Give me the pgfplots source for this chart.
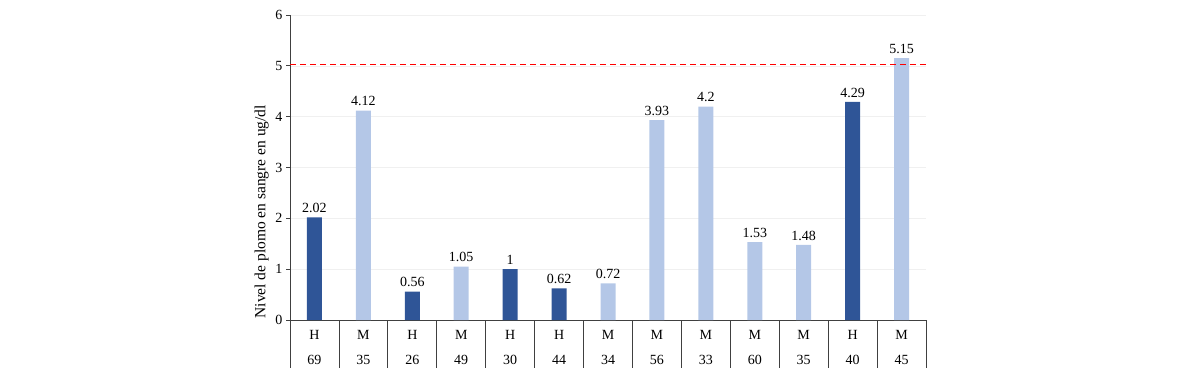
\documentclass[border=0pt]{standalone}
\usepackage{fontspec}
\setmainfont{Liberation Serif}
\usepackage{pgfplots}
\pgfplotsset{compat=1.18}
\definecolor{hblue}{HTML}{2F5597}
\definecolor{mblue}{HTML}{B4C7E7}
\begin{document}
\begin{tikzpicture}[x=1pt,y=1pt]
\useasboundingbox (0,0) rectangle (1200,384);
\begin{axis}[
  at={(290pt,64pt)}, anchor=south west,
  scale only axis, width=636pt, height=305pt,
  xmin=-0.5, xmax=12.5, ymin=0, ymax=6,
  clip=false,
  axis x line*=bottom, axis y line*=left,
  axis line style={black!75, line width=0.8pt},
  ytick={0,1,2,3,4,5,6},
  ymajorgrids, grid style={black!6, line width=0.5pt},
  ytick style={black!75, line width=0.8pt},
  tick align=outside, major tick length=4pt,
  xtick={0,...,12}, xtick style={draw=none},
  xticklabels={{H\\[10pt]69},{M\\[10pt]35},{H\\[10pt]26},{M\\[10pt]49},{H\\[10pt]30},{H\\[10pt]44},{M\\[10pt]34},{M\\[10pt]56},{M\\[10pt]33},{M\\[10pt]60},{M\\[10pt]35},{H\\[10pt]40},{M\\[10pt]45}},
  xticklabel style={align=center, font=\fontsize{14}{15}\selectfont, yshift=-3pt},
  yticklabel style={font=\fontsize{14}{15}\selectfont},
  /pgf/number format/assume math mode=true,
  ylabel={Nivel de plomo en sangre en ug/dl},
  ylabel style={font=\fontsize{15.5}{17}\selectfont, at={(ticklabel cs:0.355)}},
  bar width=15pt,
]
\addplot[ybar, fill=hblue, draw=none, bar shift=0pt,
  nodes near coords, point meta=explicit symbolic,
  nodes near coords style={font=\fontsize{14}{15}\selectfont, black, yshift=1pt}] coordinates {
  (0,2.02) [2.02] (2,0.56) [0.56] (4,1) [1] (5,0.62) [0.62] (11,4.29) [4.29]
};
\addplot[ybar, fill=mblue, draw=none, bar shift=0pt,
  nodes near coords, point meta=explicit symbolic,
  nodes near coords style={font=\fontsize{14}{15}\selectfont, black, yshift=1pt}] coordinates {
  (1,4.12) [4.12] (3,1.05) [1.05] (6,0.72) [0.72] (7,3.93) [3.93] (8,4.2) [4.2] (9,1.53) [1.53] (10,1.48) [1.48] (12,5.15) [5.15]
};
\addplot[color=red, line width=1.1pt, dash pattern=on 6pt off 4pt, mark=none] coordinates {(-0.5,5.03) (12.5,5.03)};
\pgfplotsinvokeforeach{0,...,13}{
  \draw[black!75, line width=0.8pt] (axis cs:#1-0.5,0) -- ([yshift=-48pt]axis cs:#1-0.5,0);
}
\end{axis}
\end{tikzpicture}
\end{document}
